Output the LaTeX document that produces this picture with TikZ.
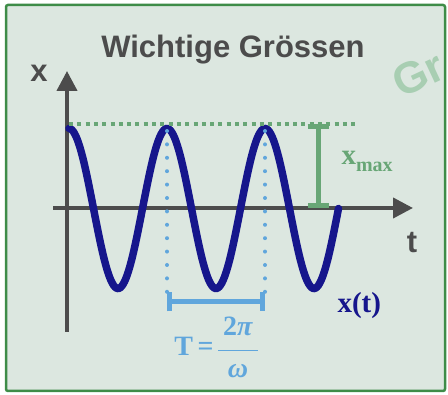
\RequirePackage{fix-cm}
\documentclass[tikz,border=0pt]{standalone}
\usepackage{fontspec}
\setmainfont{Liberation Serif}
\newfontfamily\headsans{Liberation Sans}
\usetikzlibrary{arrows.meta}
\definecolor{board}{RGB}{220,231,224}
\definecolor{rim}{RGB}{62,140,72}
\definecolor{ink}{RGB}{76,76,76}
\definecolor{wave}{RGB}{22,22,140}
\definecolor{ampl}{RGB}{104,166,118}
\definecolor{period}{RGB}{96,166,220}
\definecolor{ghost}{RGB}{168,206,178}

\begin{document}
\begin{tikzpicture}[x=1pt,y=1pt,
  axis/.style={line width=4pt,draw=ink,-{Triangle[length=20pt,width=20pt]}},
  bigsans/.style={font=\headsans\bfseries\fontsize{31}{31}\selectfont,text=ink},
  barends/.style={line width=5pt,{Bar[width=#1]}-{Bar[width=#1]}},
  dotline/.style={period,line width=4pt,line cap=round,dash pattern=on 0pt off 13.4pt}]
\useasboundingbox (0,0) rectangle (448,395);
\fill[board] (6,4) rectangle (445,390);
\begin{scope}
\clip (6,4) rectangle (445,390);
\node[anchor=base west,rotate=25,inner sep=0pt,text=ghost,font=\headsans\bfseries\fontsize{44}{44}\selectfont] (gr) at (401,296) {Gr};
\end{scope}
\draw[rim,line width=2.5pt,rounded corners=2pt] (6,4) rectangle (445,390);
\node[bigsans] (title) at (233,345) {Wichtige Grössen};
\node[bigsans] (xlab) at (39,322) {x}; \node[bigsans] (tlab) at (412,152) {t};
\coordinate (xo) at (53,187); \coordinate (xe) at (413,187);
\coordinate (yo) at (67,63); \coordinate (ye) at (67,324);
\draw[axis] (xo) -- (xe); \draw[axis] (yo) -- (ye);
\draw[wave,line width=7.5pt,line cap=round] plot[domain=0:990,samples=200] ({69+\x/360*98},{186.5+80*cos(\x)});
\coordinate (g1) at (69,271); \coordinate (g2) at (359,271);
\draw[ampl,line width=3.5pt,dash pattern=on 4pt off 4.3pt] (g1) -- (g2);
\coordinate (mtop) at (318,271); \coordinate (mbot) at (318,187);
\draw[ampl,barends=21pt] (mtop) -- (mbot);
\node[anchor=base west,text=ampl,font=\bfseries\fontsize{29}{29}\selectfont] (xmax) at (338,230) {x\raisebox{-7pt}{\fontsize{20}{20}\selectfont max}};
\coordinate (p1) at (167,264); \coordinate (q1) at (167,103);
\coordinate (p2) at (265,264); \coordinate (q2) at (265,103);
\draw[dotline] (p1) -- (q1); \draw[dotline] (p2) -- (q2);
\coordinate (ta) at (167,93); \coordinate (tb) at (265,93);
\draw[period,barends=19pt] (ta) -- (tb);
\node[text=period,font=\bfseries\fontsize{28}{32}\selectfont] (tform) at (216,46) {T\,=\,\setlength{\arrayrulewidth}{1.6pt}\renewcommand{\arraystretch}{1.15}\begin{tabular}{@{\,}c@{\,}}2\textit{π}\\[3pt]\hline\textit{ω}\end{tabular}};
\node[anchor=base west,text=wave,font=\bfseries\fontsize{29}{29}\selectfont] (xt) at (334,82) {x(t)};
\end{tikzpicture}
\end{document}
